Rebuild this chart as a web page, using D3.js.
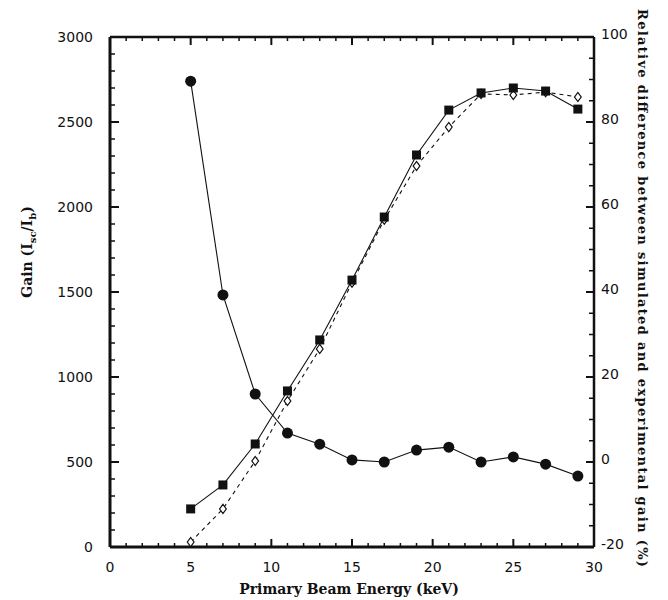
<!DOCTYPE html>
<html>
<head>
<meta charset="utf-8">
<script src="https://cdn.jsdelivr.net/npm/d3@7"></script>
<style>
  html, body { margin: 0; padding: 0; background: #fff; }
  svg { display: block; }
  .tick-label { font-family: "DejaVu Sans", Verdana, sans-serif; font-size: 14px; fill: #111; }
  .axis-title { font-family: "DejaVu Serif", Georgia, serif; font-weight: bold; fill: #111; }
</style>
</head>
<body>
<svg id="chart" width="668" height="600"></svg>
<script>
// Primary beam energy (keV)
const energy = [5, 7, 9, 11, 13, 15, 17, 19, 21, 23, 25, 27, 29];
// Experimental gain (filled squares, solid line)
const gainExperimental = [224, 365, 606, 918, 1218, 1570, 1941, 2306, 2570, 2671, 2700, 2682, 2576];
// Simulated gain (open diamonds, dashed line)
const gainSimulated = [29, 224, 506, 859, 1165, 1555, 1925, 2241, 2470, 2665, 2659, 2676, 2647];
// Relative difference between simulated and experimental gain, % (filled circles, right axis)
const relativeDiff = [89.6, 39.3, 16.0, 6.8, 4.2, 0.5, 0.0, 2.8, 3.5, 0.0, 1.2, -0.5, -3.3];

const xTicks = [0, 5, 10, 15, 20, 25, 30];
const yLeftTicks = [0, 500, 1000, 1500, 2000, 2500, 3000];
const yRightTicks = [-20, 0, 20, 40, 60, 80, 100];

const svg = d3.select("#chart");
const L = 110, R = 594, T = 37, B = 547;

const x = d3.scaleLinear().domain([0, 30]).range([L, R]);
const yL = d3.scaleLinear().domain([0, 3000]).range([B, T]);
const yR = d3.scaleLinear().domain([-20, 100]).range([B, T]);

// Frame ticks (inward): major + minor on each side
const g = svg.append("g").attr("stroke", "#111").attr("fill", "none");

d3.range(0, 31, 1).forEach(v => {
  const major = v % 5 === 0;
  const len = major ? 8 : 4;
  g.append("line").attr("x1", x(v)).attr("x2", x(v)).attr("y1", B).attr("y2", B - len).attr("stroke-width", major ? 2 : 1.5);
  g.append("line").attr("x1", x(v)).attr("x2", x(v)).attr("y1", T).attr("y2", T + len).attr("stroke-width", major ? 2 : 1.5);
});
d3.range(0, 3001, 100).forEach(v => {
  const major = v % 500 === 0;
  g.append("line").attr("x1", L).attr("x2", L + (major ? 9 : 5)).attr("y1", yL(v)).attr("y2", yL(v)).attr("stroke-width", major ? 2 : 1.5);
});
d3.range(-20, 101, 5).forEach(v => {
  const major = v % 20 === 0;
  g.append("line").attr("x1", R).attr("x2", R - (major ? 8 : 5)).attr("y1", yR(v)).attr("y2", yR(v)).attr("stroke-width", major ? 2 : 1.5);
});

// Frame
g.append("line").attr("x1", L).attr("x2", R).attr("y1", B).attr("y2", B).attr("stroke-width", 3);
g.append("line").attr("x1", L).attr("x2", L).attr("y1", T).attr("y2", B).attr("stroke-width", 3);
g.append("line").attr("x1", L).attr("x2", R).attr("y1", T).attr("y2", T).attr("stroke-width", 2.5);
g.append("line").attr("x1", R).attr("x2", R).attr("y1", T).attr("y2", B).attr("stroke-width", 2.5);

// Tick labels
svg.append("g").selectAll("text").data(xTicks).join("text")
  .attr("class", "tick-label").attr("x", d => x(d)).attr("y", 572)
  .attr("text-anchor", "middle").text(d => d);
svg.append("g").selectAll("text").data(yLeftTicks).join("text")
  .attr("class", "tick-label").attr("x", 93).attr("y", d => yL(d)).attr("dy", "0.36em")
  .attr("text-anchor", "end").text(d => d);
svg.append("g").selectAll("text").data(yRightTicks).join("text")
  .attr("class", "tick-label").attr("x", 601).attr("y", d => yR(d) - 3).attr("dy", "0.36em")
  .attr("text-anchor", "start").text(d => d);

// Axis titles
svg.append("text").attr("class", "axis-title").attr("x", 349).attr("y", 594)
  .attr("text-anchor", "middle").style("font-size", "14px")
  .text("Primary Beam Energy (keV)");

const leftTitle = svg.append("text").attr("class", "axis-title")
  .attr("transform", "translate(32,252) rotate(-90)")
  .attr("text-anchor", "middle").style("font-size", "14px");
leftTitle.append("tspan").text("Gain (I");
leftTitle.append("tspan").attr("dy", 4).style("font-size", "10px").text("sc");
leftTitle.append("tspan").attr("dy", -4).text("/I");
leftTitle.append("tspan").attr("dy", 4).style("font-size", "10px").text("b");
leftTitle.append("tspan").attr("dy", -4).text(")");

svg.append("text").attr("class", "axis-title")
  .attr("transform", "translate(638,288) rotate(90)")
  .attr("text-anchor", "middle").style("font-size", "13px").style("font-weight", "600")
  .attr("textLength", 558).attr("lengthAdjust", "spacing")
  .text("Relative difference between simulated and experimental gain (%)");

// Series lines
const lineL = d3.line().x((d, i) => x(energy[i])).y(d => yL(d));
const lineR = d3.line().x((d, i) => x(energy[i])).y(d => yR(d));

svg.append("path").datum(gainSimulated).attr("d", lineL)
  .attr("fill", "none").attr("stroke", "#111").attr("stroke-width", 1.1).attr("stroke-dasharray", "4,4");
svg.append("path").datum(gainExperimental).attr("d", lineL)
  .attr("fill", "none").attr("stroke", "#111").attr("stroke-width", 1.1);
svg.append("path").datum(relativeDiff).attr("d", lineR)
  .attr("fill", "none").attr("stroke", "#111").attr("stroke-width", 1.1);

// Markers
svg.append("g").selectAll("path").data(gainSimulated).join("path")
  .attr("d", d3.symbol(d3.symbolDiamond, 30))
  .attr("transform", (d, i) => `translate(${x(energy[i])},${yL(d)}) scale(1.15,0.9)`)
  .attr("fill", "#fff").attr("stroke", "#111").attr("stroke-width", 1.1);
svg.append("g").selectAll("rect").data(gainExperimental).join("rect")
  .attr("x", (d, i) => x(energy[i]) - 4.5).attr("y", d => yL(d) - 4.5)
  .attr("width", 9).attr("height", 9).attr("fill", "#111");
svg.append("g").selectAll("circle").data(relativeDiff).join("circle")
  .attr("cx", (d, i) => x(energy[i])).attr("cy", d => yR(d))
  .attr("r", 5.5).attr("fill", "#111");
</script>
</body>
</html>
